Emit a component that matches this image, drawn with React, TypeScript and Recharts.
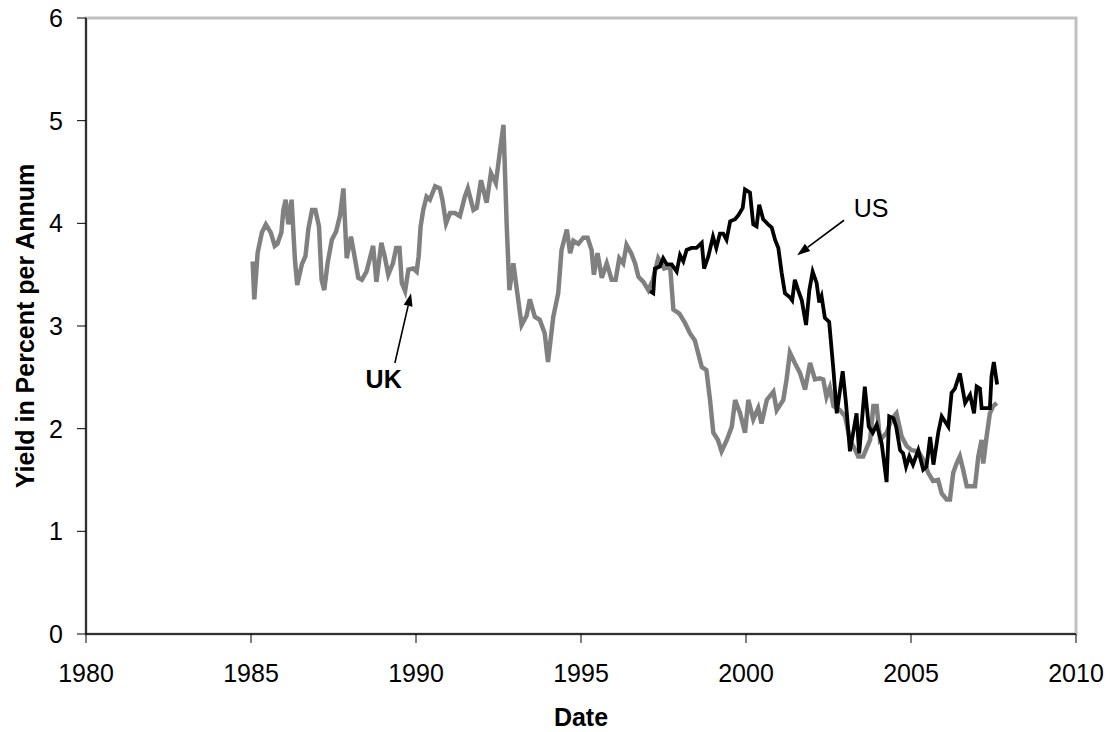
import React from 'react'
import {
  LineChart,
  Line,
  XAxis,
  YAxis,
  ReferenceArea,
  ReferenceLine,
  ReferenceDot,
  Label,
} from 'recharts'

// UK yield
const ukYears = [
  1985.05, 1985.1, 1985.2, 1985.33, 1985.45, 1985.6, 1985.72, 1985.8, 1985.92, 1985.98,
  1986.05, 1986.13, 1986.23, 1986.33, 1986.4, 1986.54, 1986.65, 1986.74, 1986.85, 1986.95,
  1987.06, 1987.14, 1987.22, 1987.32, 1987.45, 1987.58, 1987.7, 1987.8, 1987.9, 1988.03,
  1988.12, 1988.25, 1988.36, 1988.5, 1988.7, 1988.8, 1988.95, 1989.05, 1989.16, 1989.3,
  1989.4, 1989.5, 1989.57, 1989.67, 1989.77, 1989.92, 1990.02, 1990.08, 1990.14, 1990.22,
  1990.32, 1990.42, 1990.58, 1990.72, 1990.8, 1990.91, 1991.03, 1991.18, 1991.33, 1991.48,
  1991.57, 1991.74, 1991.84, 1991.97, 1992.14, 1992.27, 1992.42, 1992.55, 1992.65, 1992.75,
  1992.83, 1992.95, 1993.07, 1993.2, 1993.35, 1993.45, 1993.6, 1993.75, 1993.9, 1994.0,
  1994.16, 1994.31, 1994.41, 1994.57, 1994.67, 1994.77, 1994.92, 1995.07, 1995.2, 1995.32,
  1995.39, 1995.5, 1995.63, 1995.78, 1995.93, 1996.05, 1996.16, 1996.28, 1996.38, 1996.52,
  1996.64, 1996.74, 1996.89, 1997.04, 1997.18, 1997.34, 1997.52, 1997.7, 1997.8, 1997.98,
  1998.15, 1998.3, 1998.45, 1998.66, 1998.8, 1998.91, 1999.01, 1999.15, 1999.26, 1999.42,
  1999.57, 1999.67, 1999.82, 1999.97, 2000.07, 2000.22, 2000.37, 2000.47, 2000.63, 2000.83,
  2000.93, 2001.13, 2001.23, 2001.33, 2001.48, 2001.64, 2001.79, 2001.94, 2002.09, 2002.24,
  2002.34, 2002.44, 2002.54, 2002.65, 2002.85, 2003.0, 2003.15, 2003.3, 2003.4, 2003.55,
  2003.76, 2003.86, 2003.96, 2004.06, 2004.26, 2004.41, 2004.56, 2004.72, 2004.87, 2005.02,
  2005.22, 2005.37, 2005.52, 2005.67, 2005.82, 2005.93, 2006.08, 2006.18, 2006.28, 2006.38,
  2006.48, 2006.58, 2006.69, 2006.84, 2006.94, 2007.04, 2007.14, 2007.19, 2007.29, 2007.39,
  2007.49, 2007.6,
]
const ukYields = [
  3.63, 3.26, 3.71, 3.91, 3.99, 3.91, 3.78, 3.8, 3.91, 4.13,
  4.23, 3.99, 4.23, 3.65, 3.4, 3.6, 3.68, 3.95, 4.13, 4.13,
  3.97, 3.45, 3.35, 3.61, 3.84, 3.92, 4.08, 4.34, 3.66, 3.87,
  3.71, 3.47, 3.45, 3.53, 3.78, 3.43, 3.81, 3.68, 3.5, 3.61,
  3.76, 3.76, 3.42, 3.34, 3.55, 3.56, 3.53, 3.68, 3.97, 4.13,
  4.26, 4.23, 4.36, 4.34, 4.23, 4.0, 4.1, 4.1, 4.07, 4.26,
  4.34, 4.13, 4.15, 4.42, 4.2, 4.49, 4.39, 4.72, 4.96, 3.97,
  3.35, 3.61, 3.32, 3.01, 3.1, 3.26, 3.09, 3.06, 2.93, 2.65,
  3.09, 3.32, 3.74, 3.94, 3.71, 3.83, 3.8, 3.86, 3.86, 3.74,
  3.5, 3.71, 3.47, 3.61, 3.45, 3.45, 3.66, 3.61, 3.79, 3.71,
  3.61, 3.48, 3.43, 3.35, 3.45, 3.66, 3.56, 3.58, 3.16, 3.12,
  3.03, 2.93, 2.86, 2.6, 2.57, 2.28, 1.96, 1.89, 1.78, 1.89,
  2.02, 2.28, 2.15, 1.96, 2.28, 2.09, 2.2, 2.05, 2.28, 2.36,
  2.18, 2.28, 2.48, 2.74, 2.64, 2.54, 2.38, 2.64, 2.48, 2.49,
  2.48, 2.31, 2.4, 2.22, 2.18, 2.12, 1.89, 1.8, 1.73, 1.73,
  1.89, 2.22, 2.22, 1.89, 1.96, 2.09, 2.15, 1.92, 1.83, 1.79,
  1.78, 1.7, 1.57, 1.49, 1.5, 1.37, 1.31, 1.31, 1.57, 1.66,
  1.73, 1.6, 1.44, 1.44, 1.44, 1.73, 1.89, 1.66, 1.92, 2.15,
  2.22, 2.25,
]

// US yield
const usYears = [
  1997.09, 1997.19, 1997.24, 1997.39, 1997.49, 1997.6, 1997.75, 1997.9, 1998.0, 1998.1,
  1998.2, 1998.35, 1998.5, 1998.66, 1998.73, 1998.86, 1999.0, 1999.1, 1999.21, 1999.31,
  1999.41, 1999.52, 1999.67, 1999.77, 1999.9, 1999.97, 2000.12, 2000.22, 2000.32, 2000.4,
  2000.52, 2000.67, 2000.78, 2000.88, 2000.98, 2001.08, 2001.18, 2001.33, 2001.4, 2001.48,
  2001.58, 2001.69, 2001.82, 2001.92, 2002.02, 2002.14, 2002.22, 2002.29, 2002.39, 2002.52,
  2002.65, 2002.75, 2002.93, 2003.03, 2003.15, 2003.35, 2003.43, 2003.6, 2003.72, 2003.84,
  2003.96, 2004.11, 2004.26, 2004.34, 2004.47, 2004.55, 2004.67, 2004.76, 2004.85, 2004.95,
  2005.06, 2005.22, 2005.37, 2005.47, 2005.58, 2005.68, 2005.83, 2005.93, 2006.13, 2006.23,
  2006.33, 2006.48, 2006.64, 2006.79, 2006.91, 2006.99, 2007.09, 2007.14, 2007.29, 2007.39,
  2007.44, 2007.51, 2007.61,
]
const usYields = [
  3.34, 3.32, 3.56, 3.58, 3.66, 3.6, 3.6, 3.53, 3.69, 3.63,
  3.74, 3.76, 3.76, 3.81, 3.56, 3.68, 3.87, 3.76, 3.9, 3.9,
  3.84, 4.02, 4.04, 4.08, 4.15, 4.33, 4.3, 3.99, 3.97, 4.18,
  4.04, 3.99, 3.96, 3.84, 3.76, 3.52, 3.32, 3.28, 3.25, 3.45,
  3.35, 3.25, 3.01, 3.35, 3.53, 3.42, 3.23, 3.29, 3.08, 3.04,
  2.57, 2.15, 2.56, 2.25, 1.78, 2.15, 1.76, 2.41, 2.02, 1.96,
  2.04, 1.86, 1.48, 2.12, 2.1, 2.02, 1.79, 1.76, 1.63, 1.73,
  1.65, 1.79, 1.6, 1.63, 1.92, 1.65, 1.97, 2.12, 2.02, 2.35,
  2.39, 2.54, 2.25, 2.33, 2.15, 2.41, 2.39, 2.2, 2.2, 2.2,
  2.51, 2.65, 2.43,
]

const xTicks = [1980, 1985, 1990, 1995, 2000, 2005, 2010]
const yTicks = [0, 1, 2, 3, 4, 5, 6]

const ukData = ukYears.map((year, i) => ({ year, y: ukYields[i] }))
const usData = usYears.map((year, i) => ({ year, y: usYields[i] }))

const FONT = '"Liberation Sans", Arial, sans-serif'

const Arrow = (props: any) => {
  const { x1, y1, x2, y2 } = props
  const ang = Math.atan2(y2 - y1, x2 - x1)
  const len = 13
  const half = 4.5
  const bx = x2 - len * Math.cos(ang)
  const by = y2 - len * Math.sin(ang)
  const px = -Math.sin(ang) * half
  const py = Math.cos(ang) * half
  return (
    <g>
      <line x1={x1} y1={y1} x2={bx} y2={by} stroke="#000" strokeWidth={1.6} />
      <polygon points={`${x2},${y2} ${bx + px},${by + py} ${bx - px},${by - py}`} fill="#000" />
    </g>
  )
}

export default function App() {
  return (
    <div style={{ position: 'absolute', left: 0, top: 0, background: '#fff' }}>
      <LineChart width={1111} height={732} margin={{ top: 18, right: 35, bottom: 38, left: 20 }}>
        <ReferenceArea x1={1980} x2={2010} y1={0} y2={6} fill="none" stroke="#c0c0c0" strokeWidth={3} />
        <XAxis
          type="number"
          dataKey="year"
          domain={[1980, 2010]}
          ticks={xTicks}
          height={60}
          tickSize={9}
          tickMargin={21}
          axisLine={{ stroke: '#000', strokeWidth: 1.5 }}
          tickLine={{ stroke: '#000' }}
          tick={{ fill: '#000', fontSize: 25, fontFamily: FONT }}
        >
          <Label
            content={(p: any) => (
              <text
                x={p.viewBox.x + p.viewBox.width / 2}
                y={726}
                textAnchor="middle"
                fontFamily={FONT}
                fontSize={25}
                fontWeight="bold"
                fill="#000"
              >
                Date
              </text>
            )}
          />
        </XAxis>
        <YAxis
          type="number"
          domain={[0, 6]}
          ticks={yTicks}
          width={66}
          tickSize={9}
          tickMargin={14}
          axisLine={{ stroke: '#000', strokeWidth: 1.5 }}
          tickLine={{ stroke: '#000' }}
          tick={{ fill: '#000', fontSize: 25, fontFamily: FONT }}
        >
          <Label
            content={(p: any) => (
              <text
                x={25}
                y={p.viewBox.y + p.viewBox.height / 2}
                transform={`rotate(-90, 25, ${p.viewBox.y + p.viewBox.height / 2})`}
                textAnchor="middle"
                dominantBaseline="central"
                fontFamily={FONT}
                fontSize={25}
                fontWeight="bold"
                fill="#000"
              >
                Yield in Percent per Annum
              </text>
            )}
          />
        </YAxis>
        <Line
          data={ukData}
          dataKey="y"
          stroke="#808080"
          strokeWidth={4.5}
          dot={false}
          isAnimationActive={false}
        />
        <Line
          data={usData}
          dataKey="y"
          stroke="#000"
          strokeWidth={3.8}
          dot={false}
          isAnimationActive={false}
        />
        <ReferenceLine
          segment={[{ x: 1989.36, y: 2.64 }, { x: 1989.85, y: 3.32 }]}
          shape={Arrow}
        />
        <ReferenceLine
          segment={[{ x: 2002.97, y: 4.03 }, { x: 2001.55, y: 3.69 }]}
          shape={Arrow}
        />
        <ReferenceDot
          x={1989.02}
          y={2.48}
          r={0}
          label={{ value: 'UK', position: 'center', fontSize: 25, fontWeight: 'bold', fill: '#000', fontFamily: FONT }}
        />
        <ReferenceDot
          x={2003.79}
          y={4.15}
          r={0}
          label={{ value: 'US', position: 'center', fontSize: 25, fill: '#000', fontFamily: FONT }}
        />
      </LineChart>
    </div>
  )
}
